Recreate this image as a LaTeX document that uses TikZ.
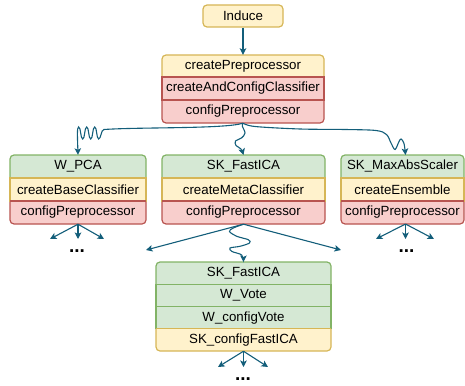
\documentclass[tikz,border=0pt]{standalone}
\usepackage{fontspec}
\setmainfont{Liberation Sans}
\usetikzlibrary{arrows.meta}
\definecolor{gF}{HTML}{D5E8D4}\definecolor{gS}{HTML}{82B366}
\definecolor{yF}{HTML}{FFF2CC}\definecolor{yS}{HTML}{D6B656}
\definecolor{rF}{HTML}{F8CECC}\definecolor{rS}{HTML}{B85450}
\definecolor{arr}{HTML}{135E7A}
\newcommand{\fs}{\fontsize{13.3}{16}\selectfont}
\newcommand{\dotsfont}{\fontsize{19}{20}\selectfont\bfseries}
\begin{document}
\begin{tikzpicture}[x=1pt,y=-1pt,
  row/.style={rectangle, inner sep=0pt, font=\fs, text=black},
  gbox/.style={fill=gF, draw=gS, line width=1.2pt},
  ybox/.style={fill=yF, draw=yS, line width=1.2pt},
  rbox/.style={fill=rF, draw=rS, line width=1.2pt},
  rc/.style={rounded corners=4pt},
  conn/.style={draw=arr, line width=1.1pt, -{Stealth[length=6.5pt,width=6.5pt,inset=1.5pt]}},
  more/.style={font=\dotsfont, inner sep=0pt, anchor=base}]
\useasboundingbox (0,0) rectangle (465,385);

% Induce
\node[row, ybox, rc, minimum width=80pt, minimum height=22pt] (ind) at (243,16) {Induce};

% top stack
\draw[ybox, rc] (162,55) rectangle (324,84);
\draw[rbox, rc] (162,94) rectangle (324,123);
\node[row, rbox, minimum width=162pt, minimum height=23pt] (top2) at (243,88.5) {createAndConfigClassifier};
\node[row, minimum width=162pt, minimum height=22pt] (top1) at (243,66) {createPreprocessor};
\node[row, minimum width=162pt, minimum height=23pt] (top3) at (243,111.5) {configPreprocessor};

% W_PCA
\draw[gbox, rc] (10,155) rectangle (146,185);
\draw[rbox, rc] (10,195) rectangle (146,224);
\node[row, ybox, minimum width=136pt, minimum height=23pt] (wp2) at (78,189.5) {createBaseClassifier};
\draw[rS, line width=1.2pt] (10,201) -- (146,201);
\node[row, minimum width=136pt, minimum height=23pt] (wp1) at (78,166.5) {W\_PCA};
\node[row, minimum width=136pt, minimum height=23pt] (wp3) at (78,212.5) {configPreprocessor};

% SK_FastICA
\draw[gbox, rc] (162,155) rectangle (325,185);
\draw[rbox, rc] (162,195) rectangle (325,224);
\node[row, ybox, minimum width=163pt, minimum height=23pt] (fi2) at (243.5,189.5) {createMetaClassifier};
\draw[rS, line width=1.2pt] (162,201) -- (325,201);
\node[row, minimum width=163pt, minimum height=23pt] (fi1) at (243.5,166.5) {SK\_FastICA};
\node[row, minimum width=163pt, minimum height=23pt] (fi3) at (243.5,212.5) {configPreprocessor};

% SK_MaxAbsScaler
\draw[gbox, rc] (341,155) rectangle (464,185);
\draw[rbox, rc] (341,195) rectangle (464,224);
\node[row, ybox, minimum width=123pt, minimum height=23pt] (ma2) at (402.5,189.5) {createEnsemble};
\draw[rS, line width=1.2pt] (341,201) -- (464,201);
\node[row, minimum width=123pt, minimum height=23pt] (ma1) at (402.5,166.5) {SK\_MaxAbsScaler};
\node[row, minimum width=123pt, minimum height=23pt] (ma3) at (402.5,212.5) {configPreprocessor};

% bottom stack
\draw[gbox, rc] (156,262) rectangle (331,290);
\draw[ybox, rc] (156,323) rectangle (331,351);
\node[row, gbox, minimum width=175pt, minimum height=22.25pt] (bs2) at (243.5,295.4) {W\_Vote};
\node[row, gbox, minimum width=175pt, minimum height=22.25pt] (bs3) at (243.5,317.6) {W\_configVote};
\draw[yS, line width=1.2pt] (156,328.75) -- (331,328.75);
\node[row, minimum width=175pt, minimum height=22.25pt] (bs1) at (243.5,273.1) {SK\_FastICA};
\node[row, minimum width=175pt, minimum height=22.25pt] (bs4) at (243.5,339.9) {SK\_configFastICA};

% connectors
\draw[conn] (ind) -- (top1);
\draw[conn] (top3.south) .. controls (225,129) and (140,127) .. (104,129.5)
  .. controls (101,129.5) and (101,139) .. (98.7,139)
  .. controls (96.4,139) and (97,127) .. (94.7,127)
  .. controls (92.4,127) and (93,139) .. (90.7,139)
  .. controls (88.4,139) and (89,127) .. (86.7,127)
  .. controls (84.4,127) and (85,139) .. (82.7,139)
  .. controls (80.4,139) and (81,127) .. (78.6,127)
  .. controls (76.8,127) and (77.5,138) .. (wp1.north);
\draw[conn] plot[smooth, tension=0.55] coordinates {(top3.south) (242.3,126) (245,133) (241.5,138) (235.5,141) (236,145.5) (241,149) (243.5,155)};
\draw[conn] plot[smooth, tension=0.55] coordinates {(top3.south) (255,126.5) (300,129) (345,129.5) (376,130.5) (386.5,134.5) (391,143) (395,149.5) (398.8,142) (401,139) (404,143.5) (405.5,155)};

\coordinate (fl) at (146,250);
\coordinate (fr) at (341,250);
\draw[conn] (fi3.south) -- (fl);
\draw[conn] (fi3.south) -- (fr);
\draw[conn] plot[smooth, tension=0.55] coordinates {(fi3.south) (233.3,228) (229.5,231.5) (236.7,236.3) (248.3,239.7) (249.5,243) (240,246.3) (230,248) (232,251.5) (241.7,255) (243.5,262)};

% fans
\coordinate (wa) at (50,239);\coordinate (wb) at (78,239);\coordinate (wc) at (104,239);
\draw[conn] (wp3.south) -- (wa);
\draw[conn] (wp3.south) -- (wb);
\draw[conn] (wp3.south) -- (wc);
\coordinate (ms) at (405.5,224);
\coordinate (mx) at (376,239);\coordinate (my) at (405.5,239);\coordinate (mz) at (434,239);
\draw[conn] (ms) -- (mx);
\draw[conn] (ms) -- (my);
\draw[conn] (ms) -- (mz);
\coordinate (ba) at (218,367);\coordinate (bb) at (243.5,367);\coordinate (bc) at (268,367);
\draw[conn] (bs4.south) -- (ba);
\draw[conn] (bs4.south) -- (bb);
\draw[conn] (bs4.south) -- (bc);

\node[more] (d1) at (77,252.5) {...};
\node[more] (d2) at (406.5,252.5) {...};
\node[more] (d3) at (243,380) {...};
\end{tikzpicture}
\end{document}
